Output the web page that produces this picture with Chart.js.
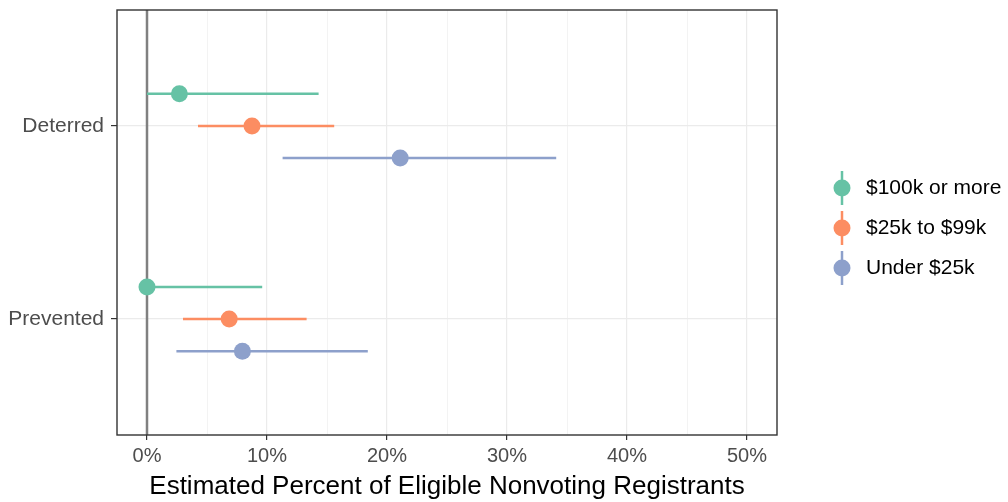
<!DOCTYPE html>
<html>
<head>
<meta charset="utf-8">
<script src="https://cdn.jsdelivr.net/npm/chart.js@4.4.1/dist/chart.umd.min.js"></script>
<style>
  html, body { margin: 0; padding: 0; background: #fff; }
  #wrap { width: 1008px; height: 502px; }
</style>
</head>
<body>
<div id="wrap"><canvas id="dot-chart" width="1008" height="502"></canvas></div>
<script>
(() => {
    const categories = ['Deterred', 'Prevented'];
    const groups = ['$100k or more', '$25k to $99k', 'Under $25k'];
    const groupColors = ['#66c2a5', '#fc8d62', '#8da0cb'];
    // percent estimates with interval ends, one value per category
    const estimate = [[2.7, 0.0], [8.75, 6.85], [21.1, 7.95]];
    const lower = [[0.0, 0.0], [4.25, 3.0], [11.3, 2.45]];
    const upper = [[14.3, 9.6], [15.6, 13.3], [34.1, 18.4]];
    const xMajor = [0, 10, 20, 30, 40, 50];
    const xMinor = [5, 15, 25, 35, 45];
    const dodge = [-1 / 6, 0, 1 / 6];

    const fontFamily = '"Liberation Sans", Arial, Helvetica, sans-serif';

    const datasets = [];
    // points on top
    groups.forEach((g, i) => {
        datasets.push({
            label: g,
            data: categories.map((c, j) => ({ x: estimate[i][j], y: j + 1 + dodge[i] })),
            backgroundColor: groupColors[i],
            borderColor: groupColors[i],
            pointRadius: 8.5,
            pointHoverRadius: 8.5,
            borderWidth: 0,
            showLine: false,
            order: 0
        });
    });
    // interval lines
    groups.forEach((g, i) => {
        categories.forEach((c, j) => {
            const y = j + 1 + dodge[i];
            datasets.push({
                label: g + ' ' + c,
                data: [{ x: lower[i][j], y: y }, { x: upper[i][j], y: y }],
                borderColor: groupColors[i],
                borderWidth: 2.5,
                pointRadius: 0,
                showLine: true,
                order: 1
            });
        });
    });
    // reference line at zero
    datasets.push({
        label: 'zero',
        data: [{ x: 0, y: 0.4 }, { x: 0, y: 2.6 }],
        borderColor: '#808080',
        borderWidth: 2.5,
        pointRadius: 0,
        showLine: true,
        order: 2
    });

    const panelBorder = {
        id: 'panelBorder',
        afterDatasetsDraw(chart) {
            const a = chart.chartArea;
            const ctx = chart.ctx;
            ctx.save();
            ctx.strokeStyle = '#333333';
            ctx.lineWidth = 1.4;
            ctx.strokeRect(a.left, a.top, a.right - a.left, a.bottom - a.top);
            ctx.restore();
        }
    };

    const keyLegend = {
        id: 'keyLegend',
        afterDraw(chart) {
            const a = chart.chartArea;
            const ctx = chart.ctx;
            const cx = a.right + 65;
            const mid = (a.top + a.bottom) / 2 + 5.5;
            ctx.save();
            groups.forEach((g, i) => {
                const y = mid + (i - 1) * 40;
                ctx.strokeStyle = groupColors[i];
                ctx.lineWidth = 2.5;
                ctx.beginPath();
                ctx.moveTo(cx, y - 17);
                ctx.lineTo(cx, y + 17);
                ctx.stroke();
                ctx.fillStyle = groupColors[i];
                ctx.beginPath();
                ctx.arc(cx, y, 8.5, 0, Math.PI * 2);
                ctx.fill();
                ctx.fillStyle = '#000000';
                ctx.font = '21px ' + fontFamily;
                ctx.textBaseline = 'middle';
                ctx.textAlign = 'left';
                ctx.fillText(g, cx + 24, y);
            });
            ctx.restore();
        }
    };

    const ctx = document.getElementById('dot-chart').getContext('2d');
    const chart = new Chart(ctx, {
        type: 'scatter',
        data: { datasets: datasets },
        options: {
            responsive: false,
            animation: false,
            events: [],
            layout: { padding: { top: 10, right: 231, left: 0, bottom: 0 } },
            plugins: {
                legend: { display: false },
                tooltip: { enabled: false }
            },
            scales: {
                x: {
                    type: 'linear',
                    min: -2.5,
                    max: 52.5,
                    afterBuildTicks: (scale) => {
                        scale.ticks = xMajor.concat(xMinor).sort((a, b) => a - b).map(v => ({ value: v }));
                    },
                    afterFit: (scale) => {
                        scale.height = 67;
                        scale.paddingLeft = 0;
                        scale.paddingRight = 0;
                    },
                    border: { display: false },
                    grid: {
                        color: '#ebebeb',
                        lineWidth: (c) => xMajor.includes(c.tick.value) ? 1.2 : 0.6,
                        tickColor: (c) => xMajor.includes(c.tick.value) ? '#333333' : 'rgba(0,0,0,0)',
                        tickLength: 5
                    },
                    ticks: {
                        autoSkip: false,
                        maxRotation: 0,
                        padding: 4,
                        color: '#4d4d4d',
                        font: { family: fontFamily, size: 20 },
                        callback: (v) => xMajor.includes(v) ? v + '%' : ''
                    },
                    title: {
                        display: true,
                        text: 'Estimated Percent of Eligible Nonvoting Registrants',
                        color: '#000000',
                        font: { family: fontFamily, size: 26 },
                        padding: { top: 0, bottom: 0 }
                    }
                },
                y: {
                    type: 'linear',
                    reverse: true,
                    min: 0.4,
                    max: 2.6,
                    afterBuildTicks: (scale) => {
                        scale.ticks = categories.map((c, j) => ({ value: j + 1 }));
                    },
                    afterFit: (scale) => {
                        scale.width = 117;
                        scale.paddingTop = 0;
                        scale.paddingBottom = 0;
                    },
                    border: { display: false },
                    grid: {
                        color: '#ebebeb',
                        lineWidth: 1.2,
                        tickColor: '#333333',
                        tickLength: 6
                    },
                    ticks: {
                        autoSkip: false,
                        padding: 7,
                        color: '#4d4d4d',
                        font: { family: fontFamily, size: 21 },
                        callback: (v) => categories[v - 1] || ''
                    }
                }
            }
        },
        plugins: [panelBorder, keyLegend]
    });
})();
</script>
</body>
</html>
